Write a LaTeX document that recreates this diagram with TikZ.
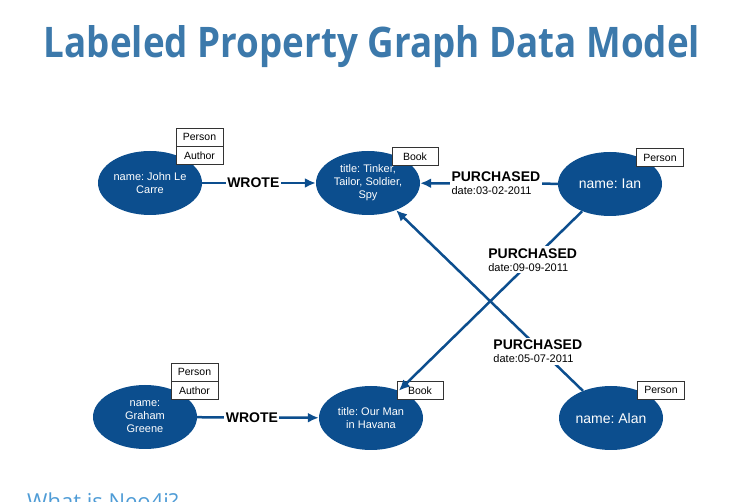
\documentclass[tikz,border=0pt]{standalone}
\usepackage{graphicx}
\usepackage{fontspec}
\setmainfont{Liberation Sans}
\newfontfamily\titlefont{Open Sans}
\usetikzlibrary{arrows.meta,positioning,shapes.geometric}
\definecolor{nodeblue}{RGB}{12,78,142}
\definecolor{titleblue}{RGB}{60,121,171}
\definecolor{linkblue}{RGB}{79,156,214}
\frenchspacing

\begin{document}
\begin{tikzpicture}[
  x=1pt, y=-1pt,
  font=\fontsize{11}{13}\selectfont,
  ent/.style={ellipse, fill=nodeblue, text=white, align=center, inner sep=0pt,
    minimum width=104pt, minimum height=64pt},
  tag/.style={draw=black!80, line width=0.7pt, fill=white, inner sep=0pt,
    minimum width=47pt, minimum height=18pt, font=\fontsize{10.5}{12}\selectfont},
  rel/.style={-{Latex[length=11pt, width=10pt]}, line width=2.5pt, draw=nodeblue},
  rlabel/.style={fill=white, inner sep=1.5pt, font=\fontsize{14}{16}\selectfont\bfseries},
  plabel/.style={fill=white, inner sep=2pt, align=left}
]
\path[use as bounding box, clip] (0,0) rectangle (753,502);

% title
\node[anchor=base, inner sep=0pt, text=titleblue] (title) at (372,58)
  {\resizebox{656pt}{32pt}{\titlefont\bfseries Labeled Property Graph Data Model}};

% entities
\node[ent] (carre) at (150,183) {name: John Le\\Carre};
\node[ent] (tinker) at (368,183) {title: Tinker,\\Tailor, Soldier,\\Spy};
\node[ent, font=\fontsize{14}{16}\selectfont] (ian) at (610,184) {name: Ian};
\node[ent] (greene) at (145,417) {name:\\Graham\\Greene};
\node[ent] (havana) at (371,418) {title: Our Man\\in Havana};
\node[ent, font=\fontsize{14}{16}\selectfont] (alan) at (611,418) {name: Alan};

% labels
\node[tag] (carreP) at (199.5,137) {Person};
\node[tag, below=0pt of carreP] (carreA) {Author};
\node[tag, minimum width=46pt] (tinkerB) at (415,156.5) {Book};
\node[tag] (ianP) at (660,157.5) {Person};
\node[tag] (greeneP) at (194.5,372) {Person};
\node[tag, below=0pt of greeneP] (greeneA) {Author};
\node[tag, minimum width=46pt] (havanaB) at (420,390.5) {Book};
\node[tag] (alanP) at (661,390) {Person};

% relationships
\draw[rel] (carre) -- node[rlabel, pos=0.45] {WROTE} (tinker);
\draw[rel] (greene) -- node[rlabel, pos=0.45] {WROTE} (havana);
\draw[rel] (ian) -- node[plabel, pos=0.45]
  {{\fontsize{14}{14}\selectfont\bfseries PURCHASED}\\date:03-02-2011} (tinker);
\draw[rel] (ian) -- node[plabel, pos=0.27]
  {{\fontsize{14}{14}\selectfont\bfseries PURCHASED}\\date:09-09-2011} (havana);
\draw[rel] (alan) -- node[plabel, pos=0.22, xshift=-4pt]
  {{\fontsize{14}{14}\selectfont\bfseries PURCHASED}\\date:05-07-2011} (tinker);

% cut-off link
\node[anchor=base west, inner sep=0pt, text=linkblue,
  font=\titlefont\fontsize{22}{22}\selectfont] (neo) at (27,510) {What is Neo4j?};

\end{tikzpicture}
\end{document}
